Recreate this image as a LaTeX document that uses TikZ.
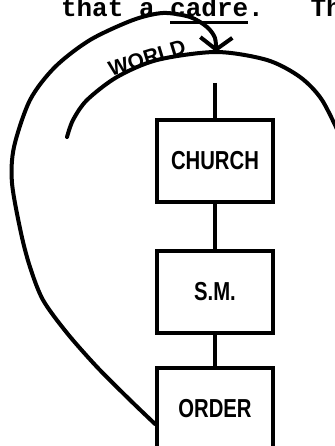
\documentclass[tikz,border=0pt]{standalone}
\usepackage{fontspec}
\newfontfamily\handfont{Liberation Sans}[FakeStretch=0.78]
\newfontfamily\handwide{Liberation Sans}
\newfontfamily\typefont{Liberation Mono}
\newcommand\typedunder[1]{\setbox0\hbox{#1}\rlap{\rule[-7pt]{\wd0}{2.6pt}}\box0}
\usetikzlibrary{positioning,arrows.meta}

\begin{document}
\begin{tikzpicture}[
    x=1pt, y=-1pt,
    line width=4pt,
    box/.style={
        rectangle,
        draw,
        minimum width=116pt,
        minimum height=82pt,
        font={\fontsize{26}{28}\selectfont\handfont\bfseries}
    },
    label/.style={
        font={\fontsize{21}{24}\selectfont\handwide\bfseries}
    },
    typed/.style={
        anchor=base west,
        inner sep=0pt,
        font={\fontsize{26}{28}\selectfont\typefont\bfseries}
    }
]
\useasboundingbox (0,0) rectangle (334,446);

\node[typed] (text) at (59,17) {that a \typedunder{cadre}.\ \ \ Th};

\node[box] (church) at (215,161) {CHURCH};
\node[box, below=45pt of church] (sm) {S.M.};
\node[box, below=31pt of sm] (order) {ORDER};
\coordinate[above=35pt of church] (stub);

\coordinate (worldtop) at (216,52);
\node[label, rotate=17] (world) at (147,58) {WORLD};

\draw[line cap=round] plot[smooth] coordinates {(67,137) (73,120) (87,100) (117,77) (157,60) (worldtop) (267,60) (300,77) (322,100) (342,140)};

\draw[-{Straight Barb[length=12pt,width=32pt]}, line cap=round] plot[smooth] coordinates {(order.194) (130,400) (97,367) (67,333) (43,300) (30,267) (21,233) (12,183) (14,147) (30,100) (55,67) (90,40) (133,20) (163,13) (190,17) (207,27) (215,38) (worldtop)};

\draw (stub) -- (church.north);
\draw (church) -- (sm);
\draw (sm) -- (order);

\end{tikzpicture}
\end{document}
